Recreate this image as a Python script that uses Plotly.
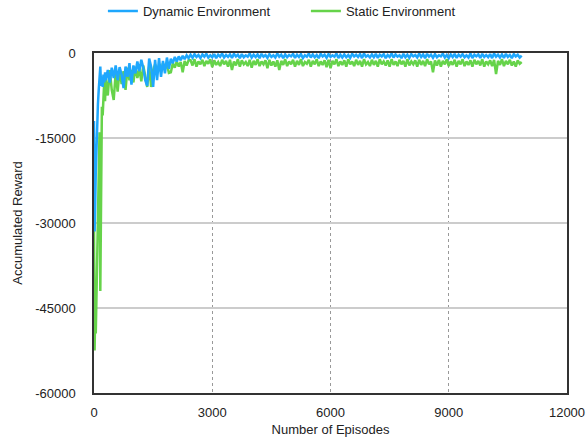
import plotly.graph_objects as go

# Sampling grid of episodes (x values)
episodes = ([0, 15, 30, 45, 60, 80, 100, 120, 140, 160, 180, 200, 220, 240, 260, 280, 300]
            + list(range(350, 2401, 50))
            + list(range(2450, 10851, 50)))

dynamic_reward = [
    # 0 .. 300
    -12000, -31500, -27000, -21000, -16000, -12000, -9000, -6500, -4000, -2400,
    -5800, -4200, -6000, -3800, -5200, -3400, -4800,
    # 350 .. 2400 step 50
    -3000, -5200, -2600, -4400, -2200, -4800, -2500, -3800, -6200, -2400,
    -4200, -1800, -5600, -2200, -3600, -1500, -3200, -1200, -2600, -4800,
    -5800, -1000, -2400, -6000, -1200, -4800, -900, -4200, -1400, -3600,
    -800, -2800, -1000, -1800, -700, -1500, -600, -1300, -500, -1100,
    -400, -900,
    # 2450 .. 10850 step 50
    -300, -850, -200, -700, -350, -900, -250, -650, -150, -800,
    -400, -750, -200, -900, -300, -650, -100, -800, -350, -700,
    -250, -850, -150, -600, -300, -900, -200, -750, -400, -650,
    -100, -800, -300, -700, -250, -900, -150, -650, -350, -850,
    -200, -700, -400, -800, -100, -650, -300, -900, -250, -750,
    -350, -600, -150, -850, -300, -700, -200, -900, -400, -650,
    -100, -800, -250, -750, -350, -900, -150, -600, -300, -850,
    -200, -700, -400, -650, -100, -900, -300, -800, -250, -750,
    -350, -850, -150, -600, -300, -700, -200, -900, -100, -650,
    -400, -800, -250, -750, -150, -850, -300, -600, -200, -900,
    -350, -700, -100, -800, -250, -650, -400, -900, -150, -750,
    -300, -850, -200, -600, -350, -800, -100, -700, -250, -900,
    -150, -650, -300, -850, -200, -750, -400, -600, -100, -800,
    -350, -900, -250, -700, -150, -850, -300, -650, -200, -750,
    -400, -800, -100, -900, -300, -600, -250, -850, -150, -700,
    -350, -750, -200, -900, -100, -650, -300, -800, -250, -850,
    -150, -700, -350, -900, -200, -600, -300, -800, -450,
]

static_reward = [
    # 0 .. 300
    -30000, -52500, -46000, -49500, -44000, -36000, -28000, -20000, -14000, -42000,
    -11500, -9500, -11000, -7000, -5000, -8500, -4500,
    # 350 .. 2400 step 50
    -7500, -3000, -6500, -8300, -3500, -6800, -2800, -5500, -3200, -6500,
    -2600, -4800, -3000, -5200, -2400, -4400, -2800, -5000, -2200, -3800,
    -6000, -2400, -6000, -3000, -2000, -3400, -2200, -3200, -1800, -2800,
    -2000, -3500, -3400, -1800, -2600, -1500, -2400, -1600, -3400, -1400,
    -2200, -1300,
    # 2450 .. 10850 step 50
    -1300, -2200, -1100, -2400, -1500, -2000, -1200, -2300, -1400, -1900,
    -1100, -2500, -1300, -2100, -1600, -2300, -1200, -2000, -1400, -2400,
    -1200, -3000, -1500, -2200, -1100, -2400, -1300, -2000, -1600, -2300,
    -1200, -2600, -1400, -2100, -1100, -2300, -1500, -2000, -1300, -2700,
    -1200, -2200, -1500, -2400, -1300, -3000, -1400, -2100, -1100, -2300,
    -1500, -2000, -1200, -2400, -1400, -2100, -1100, -2300, -1600, -1900,
    -1200, -2400, -1400, -2000, -1100, -2300, -1500, -2100, -1300, -2500,
    -1200, -2700, -1400, -2000, -1100, -2300, -1500, -2100, -1300, -2400,
    -1100, -2000, -1500, -2300, -1200, -2100, -1400, -2400, -1100, -2000,
    -1600, -2300, -1200, -2100, -1400, -2400, -1100, -2000, -1500, -2200,
    -1300, -2400, -1100, -2100, -1500, -2300, -1200, -2000, -1400, -2400,
    -1100, -2200, -1500, -2000, -1300, -2400, -1200, -2100, -1400, -2300,
    -1100, -2000, -1500, -3400, -1300, -2200, -1200, -2400, -1400, -2000,
    -1100, -2300, -1500, -2100, -1200, -2400, -1400, -2000, -1100, -2300,
    -1500, -2100, -1300, -2400, -1200, -2000, -1400, -2200, -1100, -2400,
    -1500, -2000, -1300, -2300, -1200, -3700, -1400, -2100, -1100, -2300,
    -1400, -2000, -1200, -2200, -1500, -2400, -1300, -1900, -1600,
]

x_ticks = [0, 3000, 6000, 9000, 12000]
y_ticks = [-60000, -45000, -30000, -15000, 0]

BLUE = "#1ea7fd"
GREEN = "#66d34a"
FONT = "Liberation Sans, Arial, sans-serif"

fig = go.Figure()
fig.add_trace(go.Scatter(x=episodes, y=static_reward, mode="lines",
                         name="Static Environment", legendrank=2,
                         line=dict(color=GREEN, width=2.5)))
fig.add_trace(go.Scatter(x=episodes, y=dynamic_reward, mode="lines",
                         name="Dynamic Environment", legendrank=1,
                         line=dict(color=BLUE, width=2.5)))

fig.update_layout(
    width=588, height=442, autosize=False,
    margin=dict(l=94, r=21, t=53, b=49, autoexpand=False),
    paper_bgcolor="white", plot_bgcolor="white",
    font=dict(family=FONT, size=13, color="#222"),
    legend=dict(orientation="h", xref="container", yref="container",
                x=0.175, y=0.975, xanchor="left", yanchor="middle",
                entrywidthmode="pixels", entrywidth=158,
                font=dict(size=13, color="#222"), bgcolor="rgba(0,0,0,0)"),
    xaxis=dict(range=[0, 12000], tickvals=x_ticks, ticktext=[str(v) for v in x_ticks],
               showgrid=True, gridcolor="#999", griddash="dot", gridwidth=1,
               showline=True, mirror=True, linecolor="#333", linewidth=1.5,
               zeroline=False, ticks="", ticklabelstandoff=7, automargin=False,
               title=dict(text="Number of Episodes", standoff=6,
                          font=dict(size=13, color="#222"))),
    yaxis=dict(range=[-60000, 0], tickvals=y_ticks, ticktext=[str(v) for v in y_ticks],
               showgrid=True, gridcolor="#cccccc", gridwidth=1.5,
               showline=True, mirror=True, linecolor="#333", linewidth=1.5,
               zeroline=False, ticks="", ticklabelstandoff=14, automargin=False,
               title=dict(text="Accumulated Reward", standoff=10,
                          font=dict(size=13, color="#222"))),
)

fig.write_html("out.html", config={"displayModeBar": False},
               post_script="document.body.style.margin='0';document.body.style.overflow='hidden';")
